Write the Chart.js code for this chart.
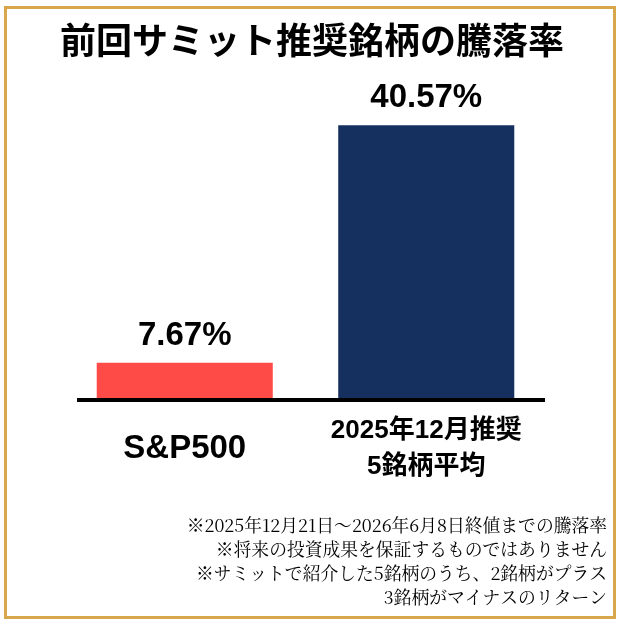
<!DOCTYPE html>
<html lang="ja">
<head>
<meta charset="utf-8">
<title>前回サミット推奨銘柄の騰落率</title>
<script src="https://cdn.jsdelivr.net/npm/chart.js@4.4.1/dist/chart.umd.min.js"></script>
<style>
    html, body { margin: 0; padding: 0; background: #ffffff; }
    #chart { display: block; }
</style>
</head>
<body>
<canvas id="chart" width="625" height="622"></canvas>
<script>
// Datos del gráfico
const categorias = [['S&P500'], ['2025年12月推奨', '5銘柄平均']];
const rendimientos = [7.67, 40.57];
const etiquetasValor = ['7.67%', '40.57%'];
const coloresBarras = ['#FF4B48', '#15305F'];

const titulo = '前回サミット推奨銘柄の騰落率';
const notas = [
    '※2025年12月21日～2026年6月8日終値までの騰落率',
    '※将来の投資成果を保証するものではありません',
    '※サミットで紹介した5銘柄のうち、2銘柄がプラス',
    '3銘柄がマイナスのリターン'
];

const fuenteNegrita = '"Liberation Sans", "Noto Sans CJK JP", sans-serif';
const fuenteNotas = '"Noto Serif CJK JP", "Liberation Serif", "Noto Sans CJK JP", serif';

// Plugin: marco, título, etiquetas y notas
const decoracion = {
    id: 'decoracion',
    beforeDraw(chart) {
        const ctx = chart.ctx;
        ctx.save();
        ctx.fillStyle = '#ffffff';
        ctx.fillRect(0, 0, chart.width, chart.height);
        ctx.strokeStyle = '#D8A74C';
        ctx.lineWidth = 3;
        ctx.strokeRect(5.5, 7.5, 609, 610);
        ctx.restore();
    },
    afterDatasetsDraw(chart) {
        const ctx = chart.ctx;
        const meta = chart.getDatasetMeta(0);
        const xScale = chart.scales.x;
        ctx.save();

        // Título
        ctx.fillStyle = '#000000';
        ctx.textAlign = 'center';
        ctx.textBaseline = 'middle';
        ctx.font = 'bold 36px "Noto Sans CJK JP", sans-serif';
        ctx.fillText(titulo, 312, 40);

        // Línea base
        ctx.strokeStyle = '#000000';
        ctx.lineWidth = 4;
        ctx.beginPath();
        ctx.moveTo(77, chart.chartArea.bottom + 2);
        ctx.lineTo(545, chart.chartArea.bottom + 2);
        ctx.stroke();

        // Valores encima de las barras
        ctx.textBaseline = 'alphabetic';
        ctx.font = 'bold 33px ' + fuenteNegrita;
        meta.data.forEach((bar, i) => {
            ctx.fillText(etiquetasValor[i], bar.x, bar.y - 18);
        });

        // Etiquetas de categoría
        categorias.forEach((lineas, i) => {
            const x = xScale.getPixelForValue(i);
            if (lineas.length === 1) {
                ctx.font = 'bold 33px ' + fuenteNegrita;
                ctx.fillText(lineas[0], x, 458);
            } else {
                ctx.font = 'bold 26px ' + fuenteNegrita;
                lineas.forEach((texto, j) => {
                    ctx.fillText(texto, x, 438 + j * 36);
                });
            }
        });

        // Notas
        ctx.textAlign = 'right';
        ctx.textBaseline = 'middle';
        ctx.font = '17.8px ' + fuenteNotas;
        notas.forEach((texto, i) => {
            ctx.fillText(texto, 607, 525 + i * 24.2);
        });

        ctx.restore();
    }
};

const ctx = document.getElementById('chart').getContext('2d');
new Chart(ctx, {
    type: 'bar',
    data: {
        labels: categorias.map(l => l.join(' ')),
        datasets: [{
            data: rendimientos,
            backgroundColor: coloresBarras,
            borderWidth: 0,
            barPercentage: 0.729,
            categoryPercentage: 1
        }]
    },
    options: {
        responsive: false,
        animation: false,
        devicePixelRatio: 1,
        layout: {
            padding: { top: 86, bottom: 224, left: 64, right: 78 }
        },
        scales: {
            x: { display: false },
            y: { display: false, min: 2.8, max: 46 }
        },
        plugins: {
            legend: { display: false },
            title: { display: false },
            tooltip: { enabled: false }
        }
    },
    plugins: [decoracion]
});
</script>
</body>
</html>
